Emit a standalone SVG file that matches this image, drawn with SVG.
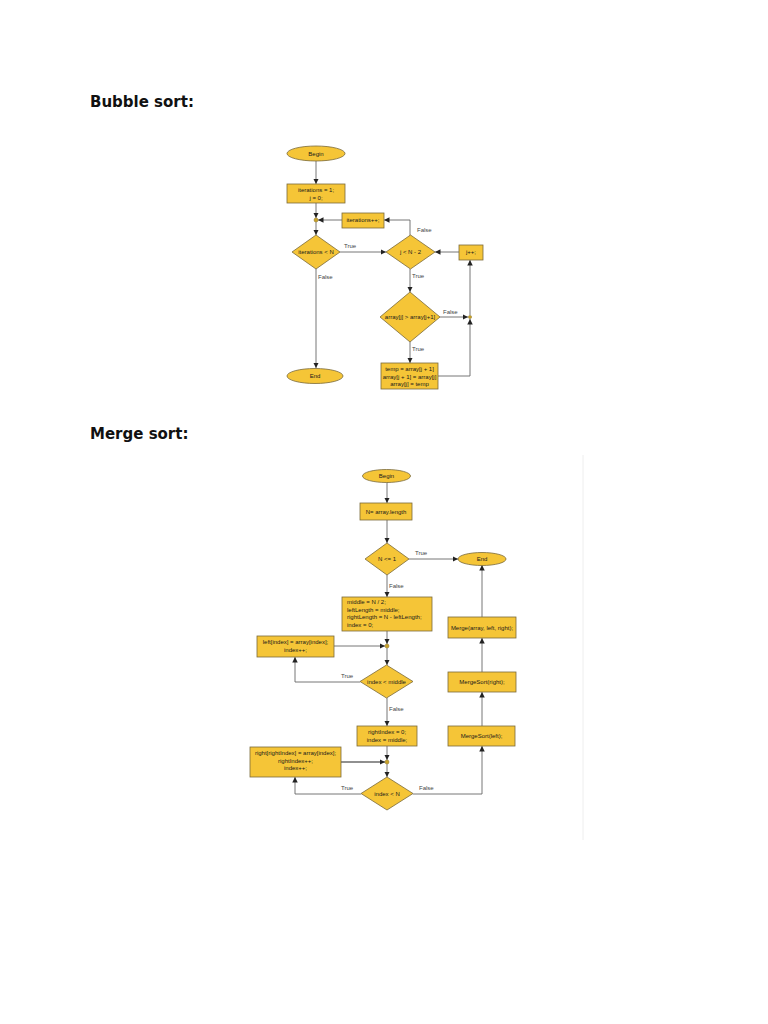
<svg xmlns="http://www.w3.org/2000/svg" width="768" height="1024" viewBox="0 0 768 1024">
<style>
.h{font-family:"DejaVu Sans",sans-serif;font-weight:bold;font-size:15px;fill:#111}
.n{fill:#F5C537;stroke:#7a6a3a;stroke-width:0.8}
.t{font-family:"Liberation Sans",Arial,sans-serif;font-size:6px;fill:#1a1a1a;text-anchor:middle}
.tl{font-family:"Liberation Sans",Arial,sans-serif;font-size:6px;fill:#1a1a1a}
.lb{font-family:"Liberation Sans",Arial,sans-serif;font-size:6px;fill:#444}
.c{fill:none;stroke:#666;stroke-width:0.9}
.j{fill:#C9A227;stroke:#8a7020;stroke-width:0.5}
</style>
<defs>
<marker id="a" viewBox="0 0 10 10" refX="10" refY="5" markerWidth="5.5" markerHeight="5.5" orient="auto" markerUnits="userSpaceOnUse">
<path d="M0,0 L10,5 L0,10 z" fill="#222"/>
</marker>
</defs>
<rect width="768" height="1024" fill="#fff"/>
<text class="h" x="90" y="107">Bubble sort:</text>
<text class="h" x="90" y="439">Merge sort:</text>
<line x1="583" y1="455" x2="583" y2="840" stroke="#eee" stroke-width="1"/>

<g id="connectors">
<path class="c" d="M316,161 V184" marker-end="url(#a)"/>
<path class="c" d="M316,203 V218" marker-end="url(#a)"/>
<path class="c" d="M342,220 H318" marker-end="url(#a)"/>
<path class="c" d="M410,236 V220 H384" marker-end="url(#a)"/>
<path class="c" d="M316,222 V235" marker-end="url(#a)"/>
<path class="c" d="M340,252 H386" marker-end="url(#a)"/>
<path class="c" d="M459,252 H435" marker-end="url(#a)"/>
<path class="c" d="M316,269 V368" marker-end="url(#a)"/>
<path class="c" d="M410,269 V292" marker-end="url(#a)"/>
<path class="c" d="M440,317 H468" marker-end="url(#a)"/>
<path class="c" d="M470,315 V260" marker-end="url(#a)"/>
<path class="c" d="M410,342 V363" marker-end="url(#a)"/>
<path class="c" d="M438,376 H470 V319" marker-end="url(#a)"/>
<path class="c" d="M387,482 V503" marker-end="url(#a)"/>
<path class="c" d="M387,520 V543" marker-end="url(#a)"/>
<path class="c" d="M409,559 H458" marker-end="url(#a)"/>
<path class="c" d="M387,575 V597" marker-end="url(#a)"/>
<path class="c" d="M387,631 V644" marker-end="url(#a)"/>
<path class="c" d="M334,646 H385" marker-end="url(#a)"/>
<path class="c" d="M387,648 V665" marker-end="url(#a)"/>
<path class="c" d="M360,682 H295 V657" marker-end="url(#a)"/>
<path class="c" d="M387,698 V726" marker-end="url(#a)"/>
<path class="c" d="M387,746 V760" marker-end="url(#a)"/>
<path class="c" d="M341,762 H385" marker-end="url(#a)" style="stroke:#222;stroke-width:1.2"/>
<path class="c" d="M387,764 V777" marker-end="url(#a)"/>
<path class="c" d="M361,794 H295 V777" marker-end="url(#a)"/>
<path class="c" d="M413,794 H482 V746" marker-end="url(#a)"/>
<path class="c" d="M482,726 V692" marker-end="url(#a)"/>
<path class="c" d="M482,672 V638" marker-end="url(#a)"/>
<path class="c" d="M482,617 V565" marker-end="url(#a)"/>
</g>

<g id="labels">
<text class="lb" x="417" y="232">False</text>
<text class="lb" x="344" y="248">True</text>
<text class="lb" x="318" y="279">False</text>
<text class="lb" x="412" y="278">True</text>
<text class="lb" x="443" y="314">False</text>
<text class="lb" x="412" y="351">True</text>
<text class="lb" x="415" y="555">True</text>
<text class="lb" x="389" y="588">False</text>
<text class="lb" x="341" y="678">True</text>
<text class="lb" x="389" y="711">False</text>
<text class="lb" x="341" y="790">True</text>
<text class="lb" x="419" y="790">False</text>
</g>

<g id="b-begin"><ellipse class="n" cx="316" cy="153.5" rx="29" ry="7.5"/><text class="t" x="316" y="155.5">Begin</text></g>
<g id="b-init"><rect class="n" x="287" y="184" width="58" height="19"/><text class="t" x="316" y="192">iterations = 1;</text><text class="t" x="316" y="199.5">j = 0;</text></g>
<g id="b-j1"><circle class="j" cx="316" cy="220" r="2"/></g>
<g id="b-iterinc"><rect class="n" x="342" y="213" width="42" height="15"/><text class="t" x="363" y="222">iterations++;</text></g>
<g id="b-itercond"><polygon class="n" points="316,235 340,252 316,269 292,252"/><text class="t" x="316" y="254">iterations &lt; N</text></g>
<g id="b-jcond"><polygon class="n" points="410.5,235 435,252 410.5,269 386,252"/><text class="t" x="410.5" y="254">j &lt; N - 2</text></g>
<g id="b-jinc"><rect class="n" x="459" y="245" width="24" height="15"/><text class="t" x="471" y="254">j++;</text></g>
<g id="b-cmp"><polygon class="n" points="410,292 440,317 410,342 380,317"/><text class="t" x="410" y="319">array[j] &gt; array[j+1]</text></g>
<g id="b-j2"><circle class="j" cx="470" cy="317" r="1.6"/></g>
<g id="b-swap"><rect class="n" x="381" y="363" width="57" height="26"/><text class="t" x="409.5" y="371">temp = array[j + 1]</text><text class="t" x="409.5" y="378.5">array[j + 1] = array[j]</text><text class="t" x="409.5" y="386">array[j] = temp</text></g>
<g id="b-end"><ellipse class="n" cx="315" cy="376" rx="28" ry="7.5"/><text class="t" x="315" y="378">End</text></g>

<g id="m-begin"><ellipse class="n" cx="386.5" cy="476" rx="24" ry="6.5"/><text class="t" x="386.5" y="478">Begin</text></g>
<g id="m-n"><rect class="n" x="360" y="503" width="52" height="17"/><text class="t" x="386" y="513.5">N= array.length</text></g>
<g id="m-cond1"><polygon class="n" points="387,543 409,559 387,575 365,559"/><text class="t" x="387" y="561">N &lt;= 1</text></g>
<g id="m-end"><ellipse class="n" cx="482" cy="559" rx="24" ry="6.5"/><text class="t" x="482" y="561">End</text></g>
<g id="m-init"><rect class="n" x="342" y="597" width="90" height="34"/><text class="tl" x="347" y="604">middle = N / 2;</text><text class="tl" x="347" y="611.5">leftLength = middle;</text><text class="tl" x="347" y="619">rightLength = N - leftLength;</text><text class="tl" x="347" y="626.5">index = 0;</text></g>
<g id="m-j1"><circle class="j" cx="387" cy="646" r="2"/></g>
<g id="m-left"><rect class="n" x="257" y="636" width="77" height="21"/><text class="t" x="295.5" y="644">left[index] = array[index];</text><text class="t" x="295.5" y="651.5">index++;</text></g>
<g id="m-cond2"><polygon class="n" points="386.5,665 413,681.5 386.5,698 360,681.5"/><text class="t" x="386.5" y="683.5">index &lt; middle</text></g>
<g id="m-ri"><rect class="n" x="357" y="726" width="60" height="20"/><text class="t" x="387" y="734">rightIndex = 0;</text><text class="t" x="387" y="741.5">index = middle;</text></g>
<g id="m-j2"><circle class="j" cx="387" cy="762" r="2"/></g>
<g id="m-right"><rect class="n" x="250" y="747" width="91" height="30"/><text class="t" x="295.5" y="755">right[rightIndex] = array[index];</text><text class="t" x="295.5" y="762.5">rightIndex++;</text><text class="t" x="295.5" y="770">index++;</text></g>
<g id="m-cond3"><polygon class="n" points="387,777 413,793.5 387,810 361,793.5"/><text class="t" x="387" y="795.5">index &lt; N</text></g>
<g id="m-msl"><rect class="n" x="448" y="726" width="67" height="20"/><text class="t" x="481.5" y="738">MergeSort(left);</text></g>
<g id="m-msr"><rect class="n" x="448" y="672" width="68" height="20"/><text class="t" x="482" y="684">MergeSort(right);</text></g>
<g id="m-merge"><rect class="n" x="448" y="617" width="68" height="21"/><text class="t" x="482" y="629.5">Merge(array, left, right);</text></g>
</svg>
